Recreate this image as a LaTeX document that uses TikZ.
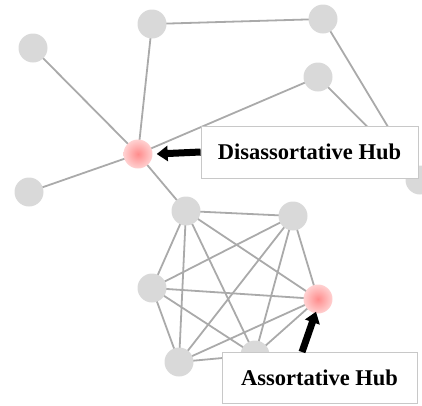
\documentclass[tikz,border=0pt]{standalone}
\usepackage{fontspec}
\setmainfont{Liberation Serif}
\usetikzlibrary{arrows.meta}
\definecolor{nodegray}{RGB}{217,217,217}
\definecolor{edgegray}{RGB}{170,170,170}
\definecolor{boxgray}{RGB}{200,200,200}
\tikzset{
  vert/.style={circle, fill=nodegray, minimum size=29pt, inner sep=0pt},
  hub/.style={circle, inner color=red!45!white, outer color=red!18!white, minimum size=29pt, inner sep=0pt},
  edge/.style={draw=edgegray, line width=1.8pt},
  labelbox/.style={draw=boxgray, fill=white, line width=0.8pt, inner sep=0pt, font=\fontsize{22.5}{26}\selectfont\bfseries},
  bigarrow/.style={line width=7pt, -{Triangle[width=15pt,length=11pt]}, black}
}
\begin{document}
\begin{tikzpicture}[x=1pt,y=-1pt]
\useasboundingbox (0,0) rectangle (422,405);
\clip (0,0) rectangle (422,405);
% node positions
\coordinate (A) at (33,48);
\coordinate (B) at (152,24);
\coordinate (C) at (323,19);
\coordinate (D) at (318,77);
\coordinate (E) at (29,192);
\coordinate (F) at (420,180);
\coordinate (H1) at (138,154);
\coordinate (G) at (186,211);
\coordinate (H) at (293,216);
\coordinate (I) at (152,288);
\coordinate (H2) at (318,299);
\coordinate (J) at (179,362);
\coordinate (K) at (255,355);
% edges
\foreach \u/\v in {A/H1,B/H1,D/H1,E/H1,G/H1,B/C,C/F,D/F,
  G/H,G/I,G/H2,G/J,G/K,H/I,H/H2,H/J,H/K,I/H2,I/J,I/K,H2/J,H2/K,J/K}
  \draw[edge] (\u) -- (\v);
% nodes
\foreach \n in {A,B,C,D,E,F,G,H,I,J,K}
  \node[vert] (n\n) at (\n) {};
\node[hub] (hub1) at (H1) {};
\node[hub] (hub2) at (H2) {};
% label boxes
\node[labelbox, minimum width=217pt, minimum height=52pt] (L1) at (309.5,152) {Disassortative Hub};
\node[labelbox, minimum width=195pt, minimum height=51pt] (L2) at (319.5,377.5) {Assortative Hub};
\coordinate (L2a) at (302,352);
\draw[bigarrow] (L1.west) -- ([xshift=4pt]hub1.east);
\draw[bigarrow] (L2a) -- ([shift={(-2pt,2pt)}]hub2.south);
\end{tikzpicture}
\end{document}
